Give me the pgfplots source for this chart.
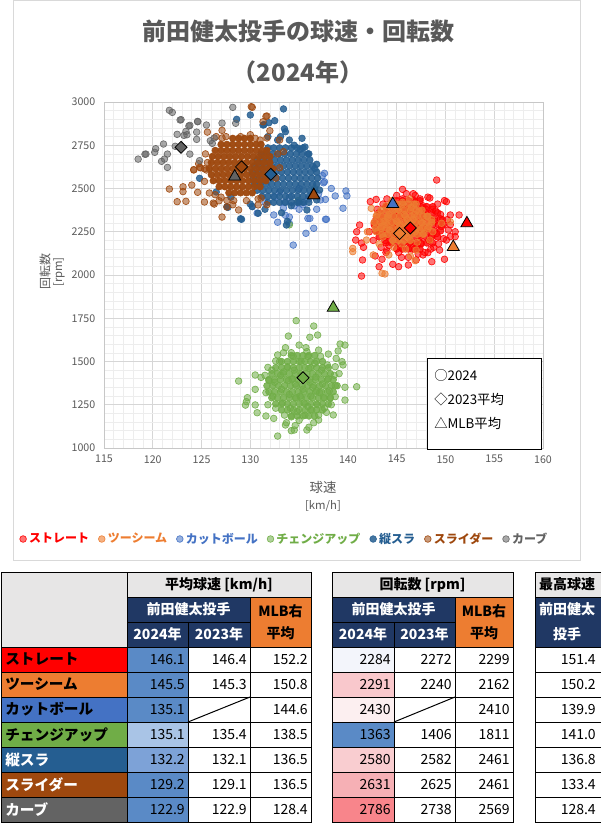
\documentclass[border=0pt]{standalone}
\usepackage{fontspec}
\setmainfont{Noto Sans CJK JP}
\usepackage{pgfplots}
\pgfplotsset{compat=1.18}
\definecolor{cST}{HTML}{FF0000}
\definecolor{cTS}{HTML}{ED7D31}
\definecolor{cCT}{HTML}{4472C4}
\definecolor{cCH}{HTML}{70AD47}
\definecolor{cVS}{HTML}{255E91}
\definecolor{cSL}{HTML}{9E480E}
\definecolor{cCU}{HTML}{636363}
\definecolor{navy}{HTML}{203864}
\definecolor{hgray}{HTML}{E7E6E6}
\definecolor{tgray}{HTML}{595959}
\definecolor{lgray}{HTML}{D9D9D9}
\definecolor{sbA}{HTML}{5A8AC6}
\definecolor{sbB}{HTML}{A9C4E6}
\definecolor{sbC}{HTML}{7DA2D7}
\definecolor{spA}{HTML}{F3F5FB}
\definecolor{spB}{HTML}{F9C8CC}
\definecolor{spC}{HTML}{FCEFF0}
\definecolor{spD}{HTML}{F9CDD0}
\definecolor{spE}{HTML}{F6B0B5}
\definecolor{spF}{HTML}{F8858B}
\pgfplotsset{pts/.style 2 args={only marks, mark=*, mark size=2.5pt,
  mark options={draw=#1, fill=#1, fill opacity=#2, draw opacity=0.9, line width=0.5pt}}}
\newcommand\lab{\bfseries\fontsize{11}{12}\selectfont}
\newcommand\numf{\fontsize{10.5}{12}\selectfont}
\newcommand\hdr{\bfseries\fontsize{10.5}{12}\selectfont}
\begin{document}
\begin{tikzpicture}
\begin{scope}[x=0.75pt,y=-0.75pt]
\path[use as bounding box] (0,0) rectangle (598,824);
\draw[lgray, line width=0.75pt] (13,1) rectangle (580,560);
\node[font=\bfseries\fontsize{18}{20}\selectfont, text=tgray] at (298,31) {前田健太投手の球速・回転数};
\node[font=\bfseries\fontsize{18}{20}\selectfont, text=tgray] at (298,72) {（2024年）};
\node[font=\fontsize{10}{12}\selectfont, text=tgray] at (323,487) {球速};
\node[font=\fontsize{8.5}{10}\selectfont, text=tgray] at (323,506) {[km/h]};
\node[font=\fontsize{9}{11}\selectfont, text=tgray, rotate=90] at (45,271) {回転数};
\node[font=\fontsize{8.5}{10}\selectfont, text=tgray, rotate=90] at (59,272) {[rpm]};
\end{scope}
\begin{axis}[
  at={(78pt,-336pt)}, anchor=south west,
  scale only axis, width=329.25pt, height=259.5pt,
  xmin=115, xmax=160, ymin=1000, ymax=3000,
  xtick={115,120,...,160}, ytick={1000,1250,...,3000},
  minor x tick num=4, minor y tick num=4,
  grid=both,
  major grid style={draw=black!16, line width=0.6pt},
  minor grid style={draw=black!7, line width=0.5pt},
  axis line style={draw=black!22, line width=0.6pt},
  tick style={draw=none},
  ticklabel style={font=\fontsize{8}{9}\selectfont, text=tgray},
  /pgf/number format/assume math mode=true,
  /pgf/number format/1000 sep={},
  xticklabel style={yshift=-2pt},
  yticklabel style={xshift=-3pt},
  legend style={at={(0.412,-0.263)}, anchor=center, draw=none, fill=none,
    legend columns=7, font=\bfseries\fontsize{9}{10}\selectfont,
    /tikz/every even column/.append style={column sep=5pt}},
  legend image code/.code={\draw[mark repeat=2,mark phase=2,#1] plot coordinates {(0cm,0cm) (0.12cm,0cm) (0.2cm,0cm)};},
]
% ストレート
\addplot[pts={cST}{0.55}] coordinates {
(149.1,2549)(145.6,2495)(146.0,2470)(150.1,2424)(151.4,2347)(150.5,2347)(151.0,2250)(151.0,2222)(150.1,2202)(149.9,2091)
(148.6,2077)(147.7,2116)(146.2,2102)(145.2,2048)(144.6,2062)(143.2,2048)(143.5,2091)(142.8,2110)(141.5,2087)(141.4,1994)
(141.6,2160)(141.4,2185)(140.8,2202)(140.9,2250)(141.2,2289)(142.3,2424)(142.9,2437)(145.5,2102)(147.0,2087)(148.2,2129)
(149.4,2144)(149.9,2430)(144.0,2140)(150.5,2290)(146.2,2058)(147.2,2121)(150.5,2222)(146.7,2470)(147.4,2440)(148.4,2445)
(143.0,2380)(143.5,2320)(143.2,2250)(143.8,2200)(144.2,2170)(144.5,2400)(144.8,2340)(144.9,2270)(145.0,2210)(145.4,2160)
(145.6,2440)(145.8,2380)(146.0,2320)(146.2,2250)(146.4,2190)(146.6,2150)(146.8,2420)(147.0,2360)(147.2,2300)(147.3,2230)
(147.5,2180)(147.7,2400)(147.9,2340)(148.1,2270)(148.3,2200)(148.5,2150)(148.7,2380)(148.9,2310)(149.1,2240)(149.3,2180)
(149.5,2350)(149.6,2280)(149.8,2210)(142.7,2300)(142.6,2200)(143.9,2130)(145.2,2130)(147.9,2130)(146.9,2460)(148.2,2450)
(144.0,2440)(149.2,2410)(150.2,2320)(150.3,2260)(142.2,2250)(144.3,2300)(145.5,2350)(146.5,2280)(147.6,2260)(148.6,2230)
(149.0,2370)(143.6,2410)(145.0,2460)(148.0,2380)(149.7,2320)(146.3,2380)(147.1,2170)(144.7,2230)(143.4,2160)(148.8,2160)
};
\addlegendentry{\textcolor{cST}{ストレート}}
\addplot[forget plot, pts={cST}{0.8}] coordinates {
(145.0,2150)(145.6,2150)(146.2,2150)(146.8,2150)(147.4,2150)
(143.9,2185)(144.5,2185)(145.1,2185)(145.7,2185)(146.3,2185)(146.9,2185)(147.5,2185)(148.1,2185)(148.7,2185)
(143.2,2220)(143.8,2220)(144.4,2220)(145.0,2220)(145.6,2220)(146.2,2220)(146.8,2220)(147.4,2220)(148.0,2220)(148.6,2220)(149.2,2220)
(142.9,2255)(143.5,2255)(144.1,2255)(144.7,2255)(145.3,2255)(145.9,2255)(146.5,2255)(147.1,2255)(147.7,2255)(148.3,2255)(148.9,2255)(149.5,2255)
(142.7,2290)(143.3,2290)(143.9,2290)(144.5,2290)(145.1,2290)(145.7,2290)(146.3,2290)(146.9,2290)(147.5,2290)(148.1,2290)(148.7,2290)(149.3,2290)(149.8,2290)
(142.9,2325)(143.5,2325)(144.1,2325)(144.7,2325)(145.3,2325)(145.9,2325)(146.5,2325)(147.1,2325)(147.7,2325)(148.3,2325)(148.9,2325)(149.5,2325)
(143.2,2360)(143.8,2360)(144.4,2360)(145.0,2360)(145.6,2360)(146.2,2360)(146.8,2360)(147.4,2360)(148.0,2360)(148.6,2360)(149.2,2360)
(143.9,2395)(144.5,2395)(145.1,2395)(145.7,2395)(146.3,2395)(146.9,2395)(147.5,2395)(148.1,2395)(148.7,2395)
(145.0,2430)(145.6,2430)(146.2,2430)(146.8,2430)(147.4,2430)
};
% ツーシーム
\addplot[pts={cTS}{0.6}] coordinates {
(142.4,2385)(140.5,2154)(140.5,2135)(141.9,2202)(142.6,2116)(143.5,2010)(144.2,2116)(146.4,2110)(147.0,2144)(146.9,2083)
(148.4,2202)(148.7,2250)(149.6,2299)(150.5,2308)(143.8,2006)(142.0,2250)
(143.0,2350)(143.4,2280)(143.6,2220)(143.9,2400)(144.1,2330)(144.3,2260)(144.6,2200)(144.8,2380)(145.0,2310)(145.2,2240)
(145.5,2180)(145.6,2420)(145.8,2350)(146.0,2280)(146.2,2220)(146.5,2390)(146.7,2320)(146.9,2250)(147.1,2190)(147.3,2370)
(147.6,2300)(147.8,2240)(148.1,2340)(148.3,2280)(144.5,2430)(146.3,2440)(143.2,2180)(145.3,2290)(144.0,2290)(147.0,2410)
(142.9,2250)(145.9,2150)(148.6,2320)(144.2,2350)(145.8,2230)(146.8,2350)(144.7,2160)(147.4,2260)(145.2,2380)(146.1,2320)
(143.7,2310)
};
\addlegendentry{\textcolor{cTS}{ツーシーム}}
\addplot[forget plot, pts={cTS}{0.8}] coordinates {
(144.6,2200)(145.2,2200)(145.8,2200)(146.4,2200)
(143.5,2235)(144.1,2235)(144.7,2235)(145.3,2235)(145.9,2235)(146.5,2235)(147.1,2235)(147.7,2235)
(142.8,2270)(143.4,2270)(144.0,2270)(144.6,2270)(145.2,2270)(145.8,2270)(146.4,2270)(147.0,2270)(147.6,2270)(148.2,2270)
(142.7,2305)(143.3,2305)(143.9,2305)(144.5,2305)(145.1,2305)(145.7,2305)(146.3,2305)(146.9,2305)(147.5,2305)(148.1,2305)(148.6,2305)
(142.9,2340)(143.5,2340)(144.1,2340)(144.7,2340)(145.3,2340)(145.9,2340)(146.5,2340)(147.1,2340)(147.7,2340)(148.2,2340)
(143.4,2375)(144.0,2375)(144.6,2375)(145.2,2375)(145.8,2375)(146.4,2375)(147.0,2375)(147.6,2375)
(144.4,2410)(145.0,2410)(145.6,2410)(146.2,2410)(146.8,2410)
};
% カットボール
\addplot[pts={cCT}{0.55}] coordinates {
(138.7,2457)(137.7,2437)(137.7,2322)(137.5,2533)(137.6,2588)(137.4,2575)(137.6,2539)(134.4,2173)(135.7,2241)(135.9,2327)
(136.1,2327)(134.0,2299)(132.4,2347)(139.8,2486)(139.9,2457)(139.5,2386)(137.8,2322)(137.2,2434)(130.2,2397)(130.7,2358)
(133.6,2345)(134.0,2335)(135.4,2406)(133.4,2387)(131.5,2420)(132.8,2305)(136.5,2270)(135.0,2380)(136.8,2380)(138.3,2500)
(133.0,2480)(134.0,2450)(135.0,2500)(136.0,2440)(134.5,2400)(136.5,2480)(135.5,2420)(133.5,2420)(137.0,2470)(132.5,2450)
};
\addlegendentry{\textcolor{cCT}{カットボール}}
% チェンジアップ
\addplot[pts={cCH}{0.55}] coordinates {
(134.7,1736)(136.5,1705)(136.9,1653)(136.1,1640)(133.9,1647)(135.0,1595)(139.2,1601)(139.7,1595)(139.0,1561)(138.0,1543)
(137.0,1566)(138.8,1518)(139.4,1499)(139.5,1480)(138.7,1470)(140.9,1354)(139.7,1351)(139.7,1277)(138.7,1297)(138.2,1290)
(138.5,1191)(137.8,1206)(137.0,1162)(136.5,1146)(135.8,1104)(134.5,1104)(134.2,1100)(133.6,1133)(133.7,1146)(132.8,1069)
(132.4,1171)(131.6,1185)(130.7,1204)(130.5,1249)(129.6,1268)(129.7,1291)(129.5,1248)(128.8,1387)(130.5,1422)(131.1,1408)
(130.5,1339)(131.8,1466)(132.6,1503)(132.8,1538)(133.4,1551)(134.2,1551)(135.8,1557)(131.9,1390)(134.9,2430)(136.6,2500)
(134.0,2290)
(132.2,1450)(132.5,1380)(132.3,1300)(132.6,1230)(133.0,1500)(133.1,1420)(133.2,1340)(133.3,1260)(133.5,1190)(133.8,1470)
(133.9,1390)(134.0,1310)(134.1,1230)(134.4,1530)(134.5,1450)(134.6,1370)(134.7,1290)(134.8,1210)(135.0,1160)(135.2,1500)
(135.3,1420)(135.4,1340)(135.5,1260)(135.6,1190)(135.9,1530)(136.0,1460)(136.1,1380)(136.2,1300)(136.3,1220)(136.6,1490)
(136.7,1410)(136.8,1330)(136.9,1250)(137.0,1190)(137.3,1450)(137.4,1370)(137.5,1290)(137.6,1230)(137.9,1480)(138.0,1400)
(138.1,1330)(138.3,1250)(138.6,1420)(138.7,1360)(131.6,1320)(131.8,1250)(131.5,1420)(136.0,1120)(134.6,1130)(139.1,1430)
(137.2,1530)(135.7,1580)(133.6,1580)(133.4,1440)(134.3,1400)(135.1,1300)(136.4,1350)(137.1,1320)(135.9,1240)(134.2,1180)
};
\addlegendentry{\textcolor{cCH}{チェンジアップ}}
\addplot[forget plot, pts={cCH}{0.85}] coordinates {
(134.2,1185)(134.8,1185)(135.4,1185)(136.0,1185)(136.6,1185)
(133.2,1220)(133.8,1220)(134.4,1220)(135.0,1220)(135.6,1220)(136.2,1220)(136.8,1220)(137.4,1220)
(132.6,1255)(133.2,1255)(133.8,1255)(134.4,1255)(135.0,1255)(135.6,1255)(136.2,1255)(136.8,1255)(137.4,1255)(138.0,1255)
(132.2,1290)(132.8,1290)(133.4,1290)(134.0,1290)(134.6,1290)(135.2,1290)(135.8,1290)(136.4,1290)(137.0,1290)(137.6,1290)(138.2,1290)
(131.9,1325)(132.5,1325)(133.1,1325)(133.7,1325)(134.3,1325)(134.9,1325)(135.5,1325)(136.1,1325)(136.7,1325)(137.3,1325)(137.9,1325)(138.5,1325)
(131.7,1360)(132.3,1360)(132.9,1360)(133.5,1360)(134.1,1360)(134.7,1360)(135.3,1360)(135.9,1360)(136.5,1360)(137.1,1360)(137.7,1360)(138.3,1360)(138.9,1360)
(131.9,1395)(132.5,1395)(133.1,1395)(133.7,1395)(134.3,1395)(134.9,1395)(135.5,1395)(136.1,1395)(136.7,1395)(137.3,1395)(137.9,1395)(138.5,1395)
(132.2,1430)(132.8,1430)(133.4,1430)(134.0,1430)(134.6,1430)(135.2,1430)(135.8,1430)(136.4,1430)(137.0,1430)(137.6,1430)(138.2,1430)
(132.6,1465)(133.2,1465)(133.8,1465)(134.4,1465)(135.0,1465)(135.6,1465)(136.2,1465)(136.8,1465)(137.4,1465)(138.0,1465)
(133.2,1500)(133.8,1500)(134.4,1500)(135.0,1500)(135.6,1500)(136.2,1500)(136.8,1500)(137.4,1500)
(134.2,1535)(134.8,1535)(135.4,1535)(136.0,1535)(136.6,1535)
};
% 縦スラ
\addplot[pts={cVS}{0.85}] coordinates {
(133.4,2960)(130.0,2925)(128.6,2900)(131.3,2867)(132.5,2892)(131.9,2880)(133.6,2828)(133.5,2845)(133.1,2800)(135.3,2790)
(135.1,2726)(136.6,2616)(136.8,2640)(124.8,2559)(127.6,2395)(129.1,2322)(130.2,2395)(130.8,2357)(133.7,2289)(133.8,2310)
(135.8,2376)(135.0,2420)(136.8,2434)(137.1,2491)(128.0,2450)(126.5,2480)(136.0,2700)(134.5,2750)(131.4,2869)(129.0,2325)
(127.7,2391)(130.0,2410)(131.5,2380)(133.2,2360)(134.2,2400)(136.0,2420)(134.0,2780)(132.8,2780)(131.8,2800)(135.6,2740)
};
\addlegendentry{\textcolor{cVS}{縦スラ}}
\addplot[forget plot, pts={cVS}{0.9}] coordinates {
(131.8,2420)(132.4,2420)(133.0,2420)(133.6,2420)(134.2,2420)(134.8,2420)(135.4,2420)
(131.2,2455)(131.8,2455)(132.4,2455)(133.0,2455)(133.6,2455)(134.2,2455)(134.8,2455)(135.4,2455)(136.0,2455)
(130.7,2490)(131.3,2490)(131.9,2490)(132.5,2490)(133.1,2490)(133.7,2490)(134.3,2490)(134.9,2490)(135.5,2490)(136.1,2490)(136.6,2490)
(130.4,2525)(131.0,2525)(131.6,2525)(132.2,2525)(132.8,2525)(133.4,2525)(134.0,2525)(134.6,2525)(135.2,2525)(135.8,2525)(136.4,2525)(136.8,2525)
(130.3,2560)(130.9,2560)(131.5,2560)(132.1,2560)(132.7,2560)(133.3,2560)(133.9,2560)(134.5,2560)(135.1,2560)(135.7,2560)(136.3,2560)(136.9,2560)
(130.2,2595)(130.8,2595)(131.4,2595)(132.0,2595)(132.6,2595)(133.2,2595)(133.8,2595)(134.4,2595)(135.0,2595)(135.6,2595)(136.2,2595)(136.8,2595)
(130.4,2630)(131.0,2630)(131.6,2630)(132.2,2630)(132.8,2630)(133.4,2630)(134.0,2630)(134.6,2630)(135.2,2630)(135.8,2630)(136.4,2630)
(130.7,2665)(131.3,2665)(131.9,2665)(132.5,2665)(133.1,2665)(133.7,2665)(134.3,2665)(134.9,2665)(135.5,2665)(136.1,2665)
(131.1,2700)(131.7,2700)(132.3,2700)(132.9,2700)(133.5,2700)(134.1,2700)(134.7,2700)(135.3,2700)(135.9,2700)
(131.8,2735)(132.4,2735)(133.0,2735)(133.6,2735)(134.2,2735)(134.8,2735)(135.4,2735)
};
% スライダー
\addplot[pts={cSL}{0.55}] coordinates {
(130.2,2969)(131.6,2917)(131.3,2886)(131.7,2919)(132.0,2834)(130.1,2973)(125.6,2826)(127.1,2836)(127.1,2792)(130.0,2811)
(131.7,2792)(133.4,2713)(133.0,2780)(124.2,2609)(124.7,2643)(125.3,2614)(125.3,2541)(124.8,2622)(125.5,2607)(124.2,2607)
(121.7,2497)(123.1,2510)(123.1,2482)(122.5,2424)(124.0,2520)(124.6,2478)(123.4,2426)(125.3,2422)(126.3,2410)(126.8,2429)
(126.4,2464)(125.8,2474)(127.1,2335)(127.6,2431)(128.2,2406)(127.6,2393)(131.7,2406)(131.1,2445)(126.2,2416)(128.8,2376)
(130.8,2405)(127.0,2450)(128.3,2430)(129.6,2430)(130.8,2440)(129.0,2800)(130.5,2790)(127.5,2800)(126.5,2800)(131.0,2780)
(132.8,2700)(133.0,2620)(125.4,2700)(124.9,2620)(125.6,2650)(132.6,2560)
};
\addlegendentry{\textcolor{cSL}{スライダー}}
\addplot[forget plot, pts={cSL}{0.97}] coordinates {
(127.8,2475)(128.4,2475)(129.0,2475)(129.6,2475)(130.2,2475)
(126.8,2510)(127.4,2510)(128.0,2510)(128.6,2510)(129.2,2510)(129.8,2510)(130.4,2510)(131.0,2510)
(126.2,2545)(126.8,2545)(127.4,2545)(128.0,2545)(128.6,2545)(129.2,2545)(129.8,2545)(130.4,2545)(131.0,2545)(131.6,2545)
(126.0,2580)(126.6,2580)(127.2,2580)(127.8,2580)(128.4,2580)(129.0,2580)(129.6,2580)(130.2,2580)(130.8,2580)(131.4,2580)(132.0,2580)
(125.8,2615)(126.4,2615)(127.0,2615)(127.6,2615)(128.2,2615)(128.8,2615)(129.4,2615)(130.0,2615)(130.6,2615)(131.2,2615)(131.8,2615)(132.3,2615)
(126.0,2650)(126.6,2650)(127.2,2650)(127.8,2650)(128.4,2650)(129.0,2650)(129.6,2650)(130.2,2650)(130.8,2650)(131.4,2650)(132.0,2650)
(126.1,2685)(126.7,2685)(127.3,2685)(127.9,2685)(128.5,2685)(129.1,2685)(129.7,2685)(130.3,2685)(130.9,2685)(131.5,2685)(132.0,2685)
(126.4,2720)(127.0,2720)(127.6,2720)(128.2,2720)(128.8,2720)(129.4,2720)(130.0,2720)(130.6,2720)(131.2,2720)(131.7,2720)
(127.0,2755)(127.6,2755)(128.2,2755)(128.8,2755)(129.4,2755)(130.0,2755)(130.6,2755)(131.1,2755)
(128.2,2790)(128.8,2790)(129.4,2790)(130.0,2790)
};
% カーブ
\addplot[pts={cCU}{0.55}] coordinates {
(121.7,2952)(122.0,2940)(122.9,2898)(123.8,2865)(124.6,2888)(123.4,2830)(123.2,2807)(124.5,2826)(124.5,2784)(123.5,2811)
(125.9,2776)(127.1,2878)(128.2,2969)(121.1,2757)(120.3,2730)(120.2,2709)(119.3,2699)(118.5,2670)(121.5,2699)(121.2,2670)
(120.9,2657)(121.5,2622)(122.3,2744)(123.8,2699)(124.8,2661)(126.3,2792)(128.5,2877)(126.1,2761)(124.6,2886)(125.5,2867)
(122.8,2896)(123.7,2861)(122.5,2813)(119.2,2698)
};
\addlegendentry{\textcolor{cCU}{カーブ}}
% 2023 averages (diamonds)
\addplot[forget plot, only marks, mark=square*, mark size=3.2pt, mark options={rotate=45, fill=cST, draw=black, line width=0.6pt}] coordinates {(146.4,2272)};
\addplot[forget plot, only marks, mark=square*, mark size=3.2pt, mark options={rotate=45, fill=cTS, draw=black, line width=0.6pt}] coordinates {(145.3,2240)};
\addplot[forget plot, only marks, mark=square*, mark size=3.2pt, mark options={rotate=45, fill=cCH, draw=black, line width=0.6pt}] coordinates {(135.4,1406)};
\addplot[forget plot, only marks, mark=square*, mark size=3.2pt, mark options={rotate=45, fill=cVS, draw=black, line width=0.6pt}] coordinates {(132.1,2582)};
\addplot[forget plot, only marks, mark=square*, mark size=3.2pt, mark options={rotate=45, fill=cSL, draw=black, line width=0.6pt}] coordinates {(129.1,2625)};
\addplot[forget plot, only marks, mark=square*, mark size=3.2pt, mark options={rotate=45, fill=cCU, draw=black, line width=0.6pt}] coordinates {(122.9,2738)};
% MLB averages (triangles)
\addplot[forget plot, only marks, mark=triangle*, mark size=5.2pt, mark options={fill=cST, draw=black, line width=0.6pt}] coordinates {(152.2,2299)};
\addplot[forget plot, only marks, mark=triangle*, mark size=5.2pt, mark options={fill=cTS, draw=black, line width=0.6pt}] coordinates {(150.8,2162)};
\addplot[forget plot, only marks, mark=triangle*, mark size=5.2pt, mark options={fill=cCT, draw=black, line width=0.6pt}] coordinates {(144.6,2410)};
\addplot[forget plot, only marks, mark=triangle*, mark size=5.2pt, mark options={fill=cCH, draw=black, line width=0.6pt}] coordinates {(138.5,1811)};
\addplot[forget plot, only marks, mark=triangle*, mark size=5.2pt, mark options={fill=cVS, draw=black, line width=0.6pt}] coordinates {(136.5,2461)};
\addplot[forget plot, only marks, mark=triangle*, mark size=5.2pt, mark options={fill=cSL, draw=black, line width=0.6pt}] coordinates {(136.5,2461)};
\addplot[forget plot, only marks, mark=triangle*, mark size=5.2pt, mark options={fill=cCU, draw=black, line width=0.6pt}] coordinates {(128.4,2569)};
\end{axis}
\begin{scope}[x=0.75pt,y=-0.75pt]
% inner legend box
\draw[black, fill=white, line width=0.75pt] (427,358) rectangle (541,449);
\node[anchor=west, font=\fontsize{10}{12}\selectfont, inner sep=0] at (434,375) {○2024};
\node[anchor=west, font=\fontsize{10}{12}\selectfont, inner sep=0] at (434,399) {◇2023平均};
\node[anchor=west, font=\fontsize{10}{12}\selectfont, inner sep=0] at (434,423) {△MLB平均};
% ===== Table block 1 =====
\fill[hgray] (1.5,572) rectangle (127,647);
\fill[hgray] (127,572) rectangle (311,597);
\fill[navy] (127,597) rectangle (250,647);
\fill[cTS] (250,597) rectangle (311,647);
\fill[cST] (1.5,647) rectangle (127,672);
\fill[cTS] (1.5,672) rectangle (127,697);
\fill[cCT] (1.5,697) rectangle (127,722);
\fill[cCH] (1.5,722) rectangle (127,747);
\fill[cVS] (1.5,747) rectangle (127,772);
\fill[cSL] (1.5,772) rectangle (127,797);
\fill[cCU] (1.5,797) rectangle (127,822);
\fill[sbA] (127,647) rectangle (188,672);
\fill[sbA] (127,672) rectangle (188,697);
\fill[sbA] (127,697) rectangle (188,722);
\fill[sbB] (127,722) rectangle (188,747);
\fill[sbC] (127,747) rectangle (188,772);
\fill[sbA] (127,772) rectangle (188,797);
\fill[sbA] (127,797) rectangle (188,822);
\begin{scope}[line width=0.75pt]
\draw (1.5,572) rectangle (311,822);
\draw (127,572) -- (127,822);
\draw (127,597) -- (311,597);
\draw (127,622) -- (250,622);
\draw (1.5,647) -- (311,647);
\foreach \y in {672,697,722,747,772,797} \draw (1.5,\y) -- (311,\y);
\draw (188,622) -- (188,822);
\draw (250,597) -- (250,822);
\draw (188,722) -- (250,697);
\end{scope}
\node[font=\hdr] at (219,584.5) {平均球速 [km/h]};
\node[font=\hdr, text=white] at (188.5,609.5) {前田健太投手};
\node[font=\hdr, text=white] at (157.5,634.5) {2024年};
\node[font=\hdr, text=white] at (219,634.5) {2023年};
\node[font=\hdr] at (280.5,611) {MLB右};
\node[font=\hdr] at (280.5,633) {平均};
\foreach \t/\c [count=\i from 0] in {ストレート/black,ツーシーム/black,カットボール/black,チェンジアップ/black,縦スラ/white,スライダー/white,カーブ/white}
  \node[anchor=west, font=\lab, text=\c, inner sep=0] at (5,659.5+25*\i) {\t};
\foreach \a/\b/\c [count=\i from 0] in {146.1/146.4/152.2,145.5/145.3/150.8,135.1//144.6,135.1/135.4/138.5,132.2/132.1/136.5,129.2/129.1/136.5,122.9/122.9/128.4}{
  \node[anchor=east, font=\numf, inner sep=0] at (185,659.5+25*\i) {\a};
  \node[anchor=east, font=\numf, inner sep=0] at (247,659.5+25*\i) {\b};
  \node[anchor=east, font=\numf, inner sep=0] at (308,659.5+25*\i) {\c};
}
% ===== Table block 2 =====
\fill[hgray] (332,572) rectangle (513,597);
\fill[navy] (332,597) rectangle (455,647);
\fill[cTS] (455,597) rectangle (513,647);
\fill[spA] (332,647) rectangle (394,672);
\fill[spB] (332,672) rectangle (394,697);
\fill[spC] (332,697) rectangle (394,722);
\fill[sbA] (332,722) rectangle (394,747);
\fill[spD] (332,747) rectangle (394,772);
\fill[spE] (332,772) rectangle (394,797);
\fill[spF] (332,797) rectangle (394,822);
\begin{scope}[line width=0.75pt]
\draw (332,572) rectangle (513,822);
\draw (332,597) -- (513,597);
\draw (332,622) -- (455,622);
\draw (332,647) -- (513,647);
\foreach \y in {672,697,722,747,772,797} \draw (332,\y) -- (513,\y);
\draw (394,622) -- (394,822);
\draw (455,597) -- (455,822);
\draw (394,722) -- (455,697);
\end{scope}
\node[font=\hdr] at (422.5,584.5) {回転数 [rpm]};
\node[font=\hdr, text=white] at (393.5,609.5) {前田健太投手};
\node[font=\hdr, text=white] at (363,634.5) {2024年};
\node[font=\hdr, text=white] at (424.5,634.5) {2023年};
\node[font=\hdr] at (484,611) {MLB右};
\node[font=\hdr] at (484,633) {平均};
\foreach \a/\b/\c [count=\i from 0] in {2284/2272/2299,2291/2240/2162,2430//2410,1363/1406/1811,2580/2582/2461,2631/2625/2461,2786/2738/2569}{
  \node[anchor=east, font=\numf, inner sep=0] at (391,659.5+25*\i) {\a};
  \node[anchor=east, font=\numf, inner sep=0] at (452,659.5+25*\i) {\b};
  \node[anchor=east, font=\numf, inner sep=0] at (510,659.5+25*\i) {\c};
}
% ===== Table block 3 =====
\fill[hgray] (535,572) rectangle (601,597);
\fill[navy] (535,597) rectangle (601,647);
\begin{scope}[line width=0.75pt]
\draw (601,572) -- (535,572) -- (535,822) -- (601,822);
\draw (535,597) -- (601,597);
\draw (535,647) -- (601,647);
\foreach \y in {672,697,722,747,772,797} \draw (535,\y) -- (601,\y);
\end{scope}
\node[font=\hdr] at (567,584.5) {最高球速};
\node[font=\hdr, text=white] at (567,609.5) {前田健太};
\node[font=\hdr, text=white] at (567,634.5) {投手};
\foreach \a [count=\i from 0] in {151.4,150.2,139.9,141.0,136.8,133.4,128.4}
  \node[anchor=east, font=\numf, inner sep=0] at (596,659.5+25*\i) {\a};
\end{scope}
\end{tikzpicture}
\end{document}
